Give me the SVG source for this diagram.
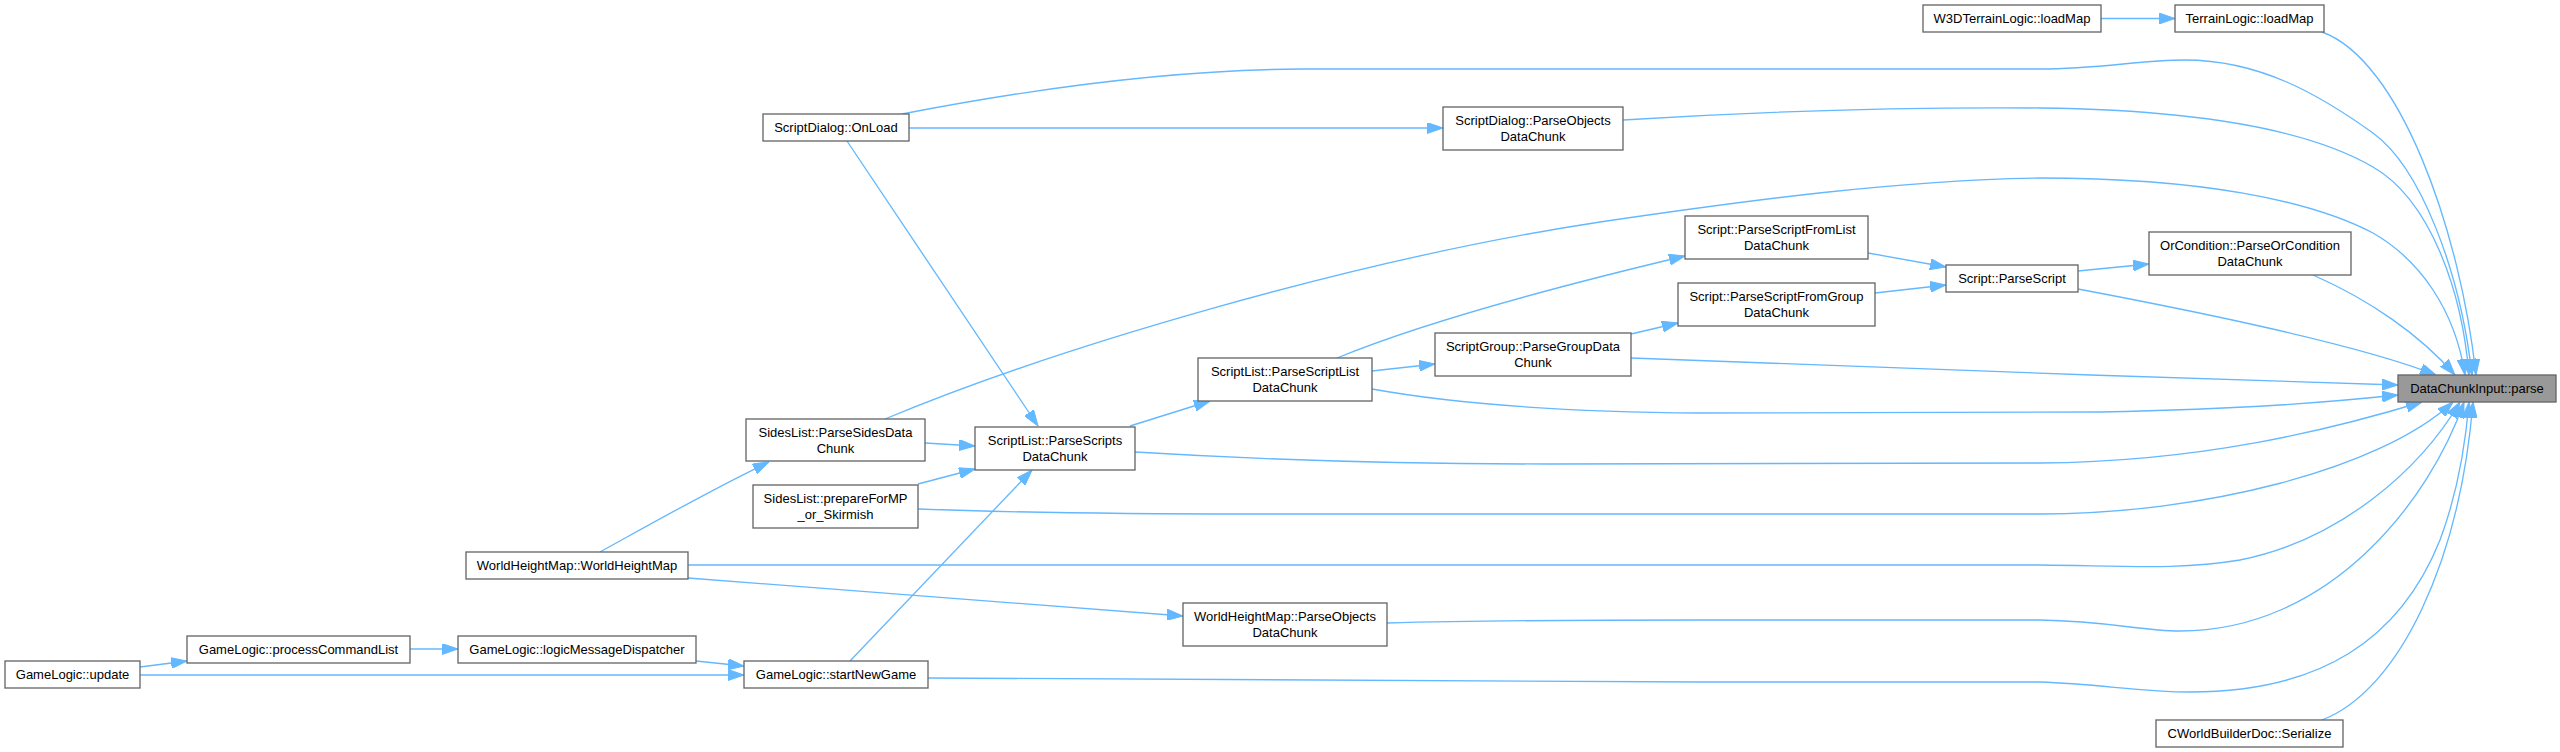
<svg xmlns="http://www.w3.org/2000/svg" width="2560" height="752" viewBox="0 0 2560 752">
<style>
.n rect{fill:#ffffff;stroke:#666666;stroke-width:1.33}
.n.f rect{fill:#999999}
.n text{font-family:"Liberation Sans",Arial,Helvetica,sans-serif;font-size:13px;fill:#000000;text-anchor:middle}
#edges path{fill:none;stroke:#63b8ff;stroke-width:1.33;marker-end:url(#ah)}
</style>
<defs>
<marker id="ah" markerWidth="16" markerHeight="11" refX="16" refY="5.5" orient="auto" markerUnits="userSpaceOnUse">
<path d="M0,0 L16,5.5 L0,11 z" fill="#63b8ff" stroke="#63b8ff" stroke-width="1"/>
</marker>
</defs>
<rect width="2560" height="752" fill="#ffffff"/>
<g id="edges">
<path d="M2101,18.5 L2175,18.5"/>
<path d="M2322,32 C2400,60 2460,230 2476,375"/>
<path d="M902,114 C1000,95 1150,70 1300,69 L2040,69 C2100,69 2140,60 2185,60 C2260,60 2320,95 2373,133 C2420,167 2460,270 2472,375"/>
<path d="M909,128 L1443,128"/>
<path d="M847,141 L1038,426"/>
<path d="M1623,120 C1750,112 1900,107 2040,108 C2200,110 2310,130 2373,167 C2430,200 2462,290 2469,375"/>
<path d="M885,419 C1050,350 1350,260 1600,222 C1750,200 1900,180 2040,178 C2200,178 2310,200 2373,233 C2420,260 2455,310 2465,375"/>
<path d="M925,443 L975,446"/>
<path d="M1868,253 L1946,267"/>
<path d="M1875,293 L1946,285"/>
<path d="M2078,271 L2149,264"/>
<path d="M2078,289 C2200,312 2360,345 2436,375"/>
<path d="M2313,275 C2370,300 2420,335 2455,375"/>
<path d="M1337,358 C1400,332 1500,300 1685,256"/>
<path d="M1372,371 L1435,364"/>
<path d="M1631,334 L1678,323"/>
<path d="M1631,358 C1850,366 2150,378 2398,385"/>
<path d="M1372,389 C1450,403 1550,412 1700,413 L2100,412 C2250,409 2330,402 2398,395"/>
<path d="M1130,426 L1210,401"/>
<path d="M1135,452 C1250,459 1400,464 1550,464 L2040,463 C2200,462 2330,430 2422,402"/>
<path d="M918,484 L975,469"/>
<path d="M918,509 C1000,512 1100,514 1250,514 L2040,514 C2200,514 2380,470 2453,402"/>
<path d="M600,552 C640,530 710,490 769,462"/>
<path d="M688,565 L2040,565 C2130,566 2180,570 2240,560 C2340,540 2420,470 2460,402"/>
<path d="M688,578 L1183,616"/>
<path d="M1387,623 C1500,620 1600,620 1700,620 L2040,620 C2110,621 2140,631 2180,631 C2330,631 2430,500 2464,402"/>
<path d="M140,667 L187,661"/>
<path d="M140,675 L744,675"/>
<path d="M410,649 L458,649"/>
<path d="M696,661 L744,666"/>
<path d="M850,661 L1032,470"/>
<path d="M928,678 C1100,681 1400,682 1700,682 L2040,682 C2100,684 2140,692 2190,692 C2320,692 2400,640 2440,540 C2455,500 2465,450 2469,402"/>
<path d="M2322,720 C2400,690 2460,560 2473,402"/>
</g>
<g id="n_w3d" class="n"><rect x="1923" y="5" width="178" height="27"/><text x="2012" y="23">W3DTerrainLogic::loadMap</text></g>
<g id="n_terrain" class="n"><rect x="2175" y="5" width="149" height="27"/><text x="2249.5" y="23">TerrainLogic::loadMap</text></g>
<g id="n_onload" class="n"><rect x="763" y="114" width="146" height="27"/><text x="836" y="132">ScriptDialog::OnLoad</text></g>
<g id="n_sdparse" class="n"><rect x="1443" y="107" width="180" height="43"/><text x="1533" y="124.5">ScriptDialog::ParseObjects</text><text x="1533" y="140.5">DataChunk</text></g>
<g id="n_fromlist" class="n"><rect x="1685" y="216" width="183" height="43"/><text x="1776.5" y="233.5">Script::ParseScriptFromList</text><text x="1776.5" y="249.5">DataChunk</text></g>
<g id="n_orcond" class="n"><rect x="2149" y="232" width="202" height="43"/><text x="2250" y="249.5">OrCondition::ParseOrCondition</text><text x="2250" y="265.5">DataChunk</text></g>
<g id="n_parsescript" class="n"><rect x="1946" y="265" width="132" height="27"/><text x="2012" y="283">Script::ParseScript</text></g>
<g id="n_fromgroup" class="n"><rect x="1678" y="283" width="197" height="43"/><text x="1776.5" y="300.5">Script::ParseScriptFromGroup</text><text x="1776.5" y="316.5">DataChunk</text></g>
<g id="n_group" class="n"><rect x="1435" y="333" width="196" height="43"/><text x="1533" y="350.5">ScriptGroup::ParseGroupData</text><text x="1533" y="366.5">Chunk</text></g>
<g id="n_scriptlist" class="n"><rect x="1198" y="358" width="174" height="43"/><text x="1285" y="375.5">ScriptList::ParseScriptList</text><text x="1285" y="391.5">DataChunk</text></g>
<g id="n_parse" class="n f"><rect x="2398" y="375" width="158" height="27"/><text x="2477" y="393">DataChunkInput::parse</text></g>
<g id="n_sides" class="n"><rect x="746" y="419" width="179" height="42"/><text x="835.5" y="436.5">SidesList::ParseSidesData</text><text x="835.5" y="452.5">Chunk</text></g>
<g id="n_scripts" class="n"><rect x="975" y="427" width="160" height="43"/><text x="1055" y="444.5">ScriptList::ParseScripts</text><text x="1055" y="460.5">DataChunk</text></g>
<g id="n_prepare" class="n"><rect x="753" y="485" width="165" height="43"/><text x="835.5" y="502.5">SidesList::prepareForMP</text><text x="835.5" y="518.5">_or_Skirmish</text></g>
<g id="n_whm" class="n"><rect x="466" y="552" width="222" height="27"/><text x="577" y="570">WorldHeightMap::WorldHeightMap</text></g>
<g id="n_whmparse" class="n"><rect x="1183" y="603" width="204" height="43"/><text x="1285" y="620.5">WorldHeightMap::ParseObjects</text><text x="1285" y="636.5">DataChunk</text></g>
<g id="n_pcl" class="n"><rect x="187" y="636" width="223" height="27"/><text x="298.5" y="654">GameLogic::processCommandList</text></g>
<g id="n_lmd" class="n"><rect x="458" y="636" width="238" height="27"/><text x="577" y="654">GameLogic::logicMessageDispatcher</text></g>
<g id="n_update" class="n"><rect x="5" y="661" width="135" height="27"/><text x="72.5" y="679">GameLogic::update</text></g>
<g id="n_sng" class="n"><rect x="744" y="661" width="184" height="27"/><text x="836" y="679">GameLogic::startNewGame</text></g>
<g id="n_cwb" class="n"><rect x="2156" y="720" width="187" height="27"/><text x="2249.5" y="738">CWorldBuilderDoc::Serialize</text></g>
</svg>
